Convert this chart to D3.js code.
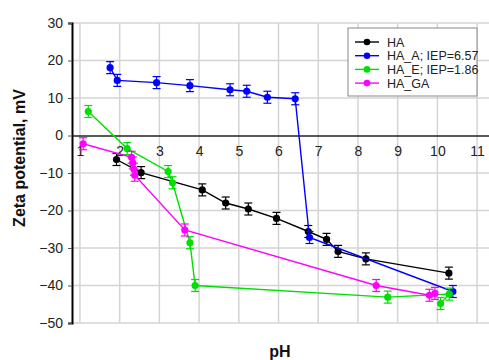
<!DOCTYPE html>
<html>
<head>
<meta charset="utf-8">
<script src="https://cdn.jsdelivr.net/npm/d3@7"></script>
<style>
  body { margin: 0; background: #fff; }
  svg { display: block; font-family: Arial, "Liberation Sans", sans-serif; }
</style>
</head>
<body>
<div id="chart"></div>
<script>
// series values (pH, zeta mV)
const haPH = [1.92, 2.54, 4.08, 4.67, 5.24, 5.95, 6.75, 7.21, 7.50, 8.20, 10.29]
const haZeta = [-6.4, -9.9, -14.5, -18.0, -19.6, -22.1, -25.6, -27.7, -30.9, -32.9, -36.7]

const haAPH = [1.76, 1.94, 2.93, 3.77, 4.78, 5.20, 5.72, 6.42, 6.78, 10.39]
const haAZeta = [18.1, 14.7, 14.1, 13.3, 12.2, 11.8, 10.2, 9.8, -27.2, -41.6]

const haEPH = [1.21, 2.19, 3.22, 3.33, 3.77, 3.90, 8.75, 10.30, 10.08]
const haEZeta = [6.4, -3.5, -9.6, -12.6, -28.6, -40.0, -43.1, -42.3, -44.8]

const haGAPH = [1.08, 2.30, 2.33, 2.36, 2.38, 3.64, 8.46, 9.80, 9.94]
const haGAZeta = [-2.2, -5.8, -7.3, -9.0, -10.6, -25.2, -40.0, -42.6, -42.1]

const errBar = 1.6

const seriesNames = ['HA', 'HA_A; IEP=6.57', 'HA_E; IEP=1.86', 'HA_GA']
const seriesColors = ['#000000', '#0000ff', '#00e000', '#ff00ff']
const xTicks = [1, 2, 3, 4, 5, 6, 7, 8, 9, 10, 11]
const yTicks = [30, 20, 10, 0, -10, -20, -30, -40, -50]

const series = [
  { name: seriesNames[0], color: seriesColors[0], x: haPH, y: haZeta },
  { name: seriesNames[1], color: seriesColors[1], x: haAPH, y: haAZeta },
  { name: seriesNames[2], color: seriesColors[2], x: haEPH, y: haEZeta },
  { name: seriesNames[3], color: seriesColors[3], x: haGAPH, y: haGAZeta }
]

const width = 489, height = 360
const margin = { top: 23, right: 0, bottom: 36, left: 72 }

const svg = d3.select('#chart').append('svg')
  .attr('width', width)
  .attr('height', height)

const x = d3.scaleLinear().domain([0.8, 11.3]).range([margin.left, width - margin.right])
const y = d3.scaleLinear().domain([30, -50]).range([margin.top, height - margin.bottom - 1])

// grid
const grid = svg.append('g')
grid.selectAll('.vgrid')
  .data(xTicks)
  .join('line')
  .attr('class', 'vgrid')
  .attr('x1', d => x(d)).attr('x2', d => x(d))
  .attr('y1', y(30)).attr('y2', y(-50))
  .attr('stroke', '#d4d4d4').attr('stroke-width', 1.5)
grid.selectAll('.hgrid')
  .data(yTicks.filter(d => d !== 0))
  .join('line')
  .attr('class', 'hgrid')
  .attr('x1', x(0.8)).attr('x2', width)
  .attr('y1', d => y(d)).attr('y2', d => y(d))
  .attr('stroke', '#d4d4d4').attr('stroke-width', 1.5)

// y axis
const yAxis = svg.append('g')
  .attr('transform', `translate(${margin.left},0)`)
  .call(d3.axisLeft(y).tickValues(yTicks).tickSize(4).tickPadding(5))
yAxis.select('.domain').attr('stroke', '#000').attr('stroke-width', 2)
yAxis.selectAll('.tick line').attr('stroke', '#555')
yAxis.selectAll('.tick text')
  .attr('font-size', 14).attr('fill', '#222')
  .attr('font-family', 'Arial, "Liberation Sans", sans-serif')

// x axis crossing at zero
const xAxis = svg.append('g')
  .attr('transform', `translate(0,${y(0)})`)
  .call(d3.axisBottom(x).tickValues(xTicks).tickSize(0).tickPadding(11))
xAxis.select('.domain').attr('stroke', '#222').attr('stroke-width', 1.5)
xAxis.selectAll('.tick text')
  .attr('font-size', 14).attr('fill', '#222')
  .attr('font-family', 'Arial, "Liberation Sans", sans-serif')

// titles
svg.append('text')
  .attr('transform', 'translate(25,158) rotate(-90)')
  .attr('text-anchor', 'middle')
  .attr('font-size', 16).attr('font-weight', 'bold').attr('fill', '#111')
  .text('Zeta potential, mV')

svg.append('text')
  .attr('x', 280).attr('y', 357)
  .attr('text-anchor', 'middle')
  .attr('font-size', 16).attr('font-weight', 'bold').attr('fill', '#111')
  .text('pH')

// series
const line = d3.line().x(d => x(d[0])).y(d => y(d[1]))

series.forEach(s => {
  const pts = s.x.map((v, i) => [v, s.y[i]])
  const g = svg.append('g')
  g.append('path')
    .attr('d', line(pts))
    .attr('fill', 'none')
    .attr('stroke', s.color)
    .attr('stroke-width', 1.4)
  const eb = g.selectAll('.err')
    .data(pts)
    .join('g')
    .attr('stroke', s.color)
    .attr('stroke-width', 1.2)
  eb.append('line')
    .attr('x1', d => x(d[0])).attr('x2', d => x(d[0]))
    .attr('y1', d => y(d[1] + errBar)).attr('y2', d => y(d[1] - errBar))
  eb.append('line')
    .attr('x1', d => x(d[0]) - 4).attr('x2', d => x(d[0]) + 4)
    .attr('y1', d => y(d[1] + errBar)).attr('y2', d => y(d[1] + errBar))
  eb.append('line')
    .attr('x1', d => x(d[0]) - 4).attr('x2', d => x(d[0]) + 4)
    .attr('y1', d => y(d[1] - errBar)).attr('y2', d => y(d[1] - errBar))
  g.selectAll('circle')
    .data(pts)
    .join('circle')
    .attr('cx', d => x(d[0])).attr('cy', d => y(d[1]))
    .attr('r', 3.6)
    .attr('fill', s.color)
})

// legend
const legend = svg.append('g').attr('transform', 'translate(348,28)')
legend.append('rect')
  .attr('width', 129).attr('height', 68)
  .attr('fill', '#fff').attr('stroke', '#888').attr('stroke-width', 1)
const items = legend.selectAll('.item')
  .data(series)
  .join('g')
  .attr('class', 'item')
  .attr('transform', (d, i) => `translate(0,${14 + i * 13.7})`)
items.append('line')
  .attr('x1', 7).attr('x2', 31)
  .attr('stroke', d => d.color).attr('stroke-width', 1.4)
items.append('circle')
  .attr('cx', 19).attr('r', 3.3)
  .attr('fill', d => d.color)
items.append('text')
  .attr('x', 39).attr('y', 4.5)
  .attr('font-size', 12.5).attr('fill', '#222')
  .text(d => d.name)
</script>
</body>
</html>
